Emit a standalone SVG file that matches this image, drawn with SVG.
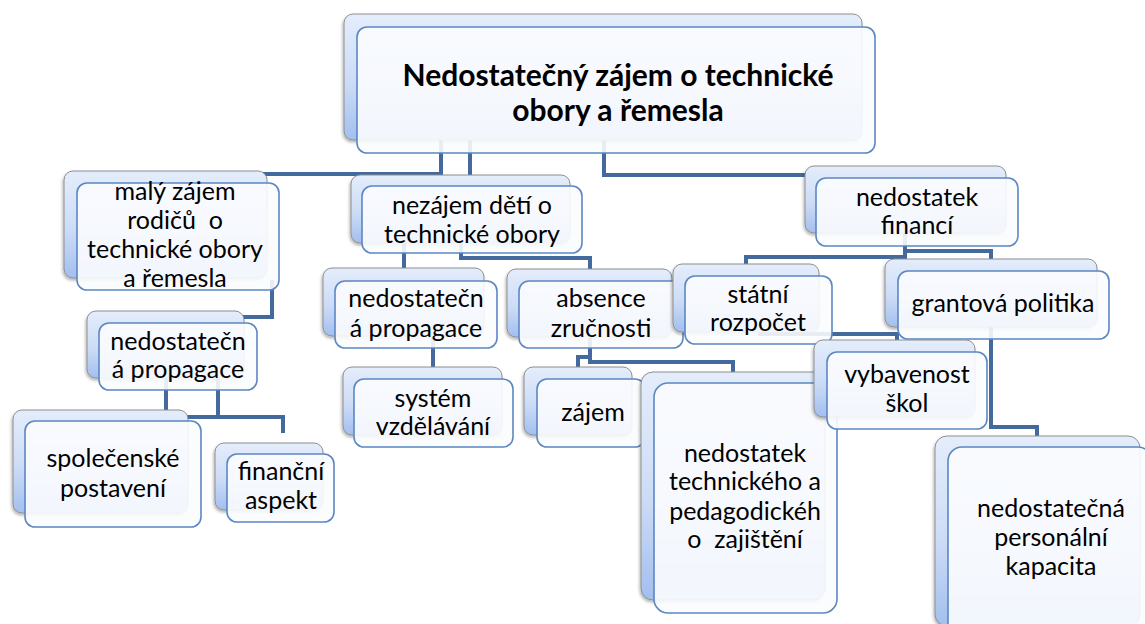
<svg xmlns="http://www.w3.org/2000/svg" width="1145" height="624" viewBox="0 0 1145 624">
<defs>
<linearGradient id="gb" x1="0" y1="0" x2="0" y2="1">
<stop offset="0" stop-color="#e4edfb"/>
<stop offset="0.55" stop-color="#cddcf6"/>
<stop offset="1" stop-color="#a2bfef"/>
</linearGradient>
<filter id="sh" x="-5%" y="-5%" width="112%" height="120%">
<feDropShadow dx="-1" dy="2" stdDeviation="1.5" flood-color="#000" flood-opacity="0.3"/>
</filter>
<style>
.conn{fill:none;stroke:#44699d;stroke-width:4;stroke-linejoin:miter}
.bk{fill:url(#gb);stroke:#8e8e8e;stroke-width:1;filter:url(#sh)}
.fr{fill:#fbfcfe;fill-opacity:0.9;stroke:#5b87c2;stroke-width:1.6}
.t{font-family:Lato,"Liberation Sans",sans-serif;font-size:25px;fill:#000;text-anchor:middle}
.tb{font-weight:bold;font-size:30px}
</style>
</defs>
<rect width="1145" height="624" fill="#ffffff"/>
<g id="connectors">
<path class="conn" d="M441 140 V174 H170"/>
<path class="conn" d="M470 140 V176"/>
<path class="conn" d="M604 140 V175 H905"/>
<path class="conn" d="M272 280 V317 H170"/>
<path class="conn" d="M404 243 V268"/>
<path class="conn" d="M461 243 V258 H590 V269"/>
<path class="conn" d="M166 378 V410"/>
<path class="conn" d="M218 378 V417"/>
<path class="conn" d="M120 417 H283 V433"/>
<path class="conn" d="M433 336 V367"/>
<path class="conn" d="M590 337 V357 H578 V367"/>
<path class="conn" d="M590 337 V362 H733 V372"/>
<path class="conn" d="M905 233 V257 H746 V264"/>
<path class="conn" d="M905 233 V251 H991 V259"/>
<path class="conn" d="M758 334 H897 V340"/>
<path class="conn" d="M991 327 V427 H1037 V436"/>
</g>
<g id="n-top">
<rect class="bk" x="344" y="14" width="518" height="126" rx="9"/>
<rect class="fr" x="357" y="27" width="518" height="126" rx="10"/>
<text class="t tb"><tspan x="618" y="86">Nedostatečný zájem o technické</tspan><tspan x="618" y="121">obory a řemesla</tspan></text>
</g>
<g id="n-maly">
<rect class="bk" x="64" y="171" width="203" height="107" rx="9"/>
<rect class="fr" x="77" y="183" width="202" height="107" rx="10"/>
<text class="t" xml:space="preserve"><tspan x="175" y="200">malý zájem</tspan><tspan x="175" y="229">rodičů  o</tspan><tspan x="175" y="258">technické obory</tspan><tspan x="175" y="287">a řemesla</tspan></text>
</g>
<g id="n-nezajem">
<rect class="bk" x="351" y="175" width="219" height="68" rx="9"/>
<rect class="fr" x="362" y="186" width="220" height="67" rx="10"/>
<text class="t"><tspan x="472" y="214">nezájem dětí o</tspan><tspan x="472" y="243">technické obory</tspan></text>
</g>
<g id="n-financi">
<rect class="bk" x="805" y="166" width="201" height="67" rx="9"/>
<rect class="fr" x="816" y="178" width="202" height="68" rx="10"/>
<text class="t"><tspan x="917" y="206">nedostatek</tspan><tspan x="917" y="234">financí</tspan></text>
</g>
<g id="n-propagace-l">
<rect class="bk" x="87" y="311" width="157" height="67" rx="9"/>
<rect class="fr" x="99" y="323" width="158" height="67" rx="10"/>
<text class="t"><tspan x="178" y="350">nedostatečn</tspan><tspan x="178" y="378">á propagace</tspan></text>
</g>
<g id="n-spolecenske">
<rect class="bk" x="13" y="410" width="175" height="103" rx="9"/>
<rect class="fr" x="25" y="421" width="176" height="106" rx="10"/>
<text class="t"><tspan x="113" y="467">společenské</tspan><tspan x="113" y="497">postavení</tspan></text>
</g>
<g id="n-financni">
<rect class="bk" x="215" y="443" width="108" height="67" rx="9"/>
<rect class="fr" x="227" y="454" width="107" height="68" rx="10"/>
<text class="t"><tspan x="281" y="480">finanční</tspan><tspan x="281" y="509">aspekt</tspan></text>
</g>
<g id="n-propagace-m">
<rect class="bk" x="323" y="268" width="161" height="68" rx="9"/>
<rect class="fr" x="335" y="281" width="162" height="67" rx="10"/>
<text class="t"><tspan x="416" y="307">nedostatečn</tspan><tspan x="416" y="337">á propagace</tspan></text>
</g>
<g id="n-system">
<rect class="bk" x="343" y="367" width="159" height="68" rx="9"/>
<rect class="fr" x="354" y="379" width="159" height="68" rx="10"/>
<text class="t"><tspan x="433" y="407">systém</tspan><tspan x="433" y="435">vzdělávání</tspan></text>
</g>
<g id="n-absence">
<rect class="bk" x="507" y="269" width="165" height="68" rx="9"/>
<rect class="fr" x="519" y="281" width="164" height="67" rx="10"/>
<text class="t"><tspan x="601" y="307">absence</tspan><tspan x="601" y="337">zručnosti</tspan></text>
</g>
<g id="n-zajem">
<rect class="bk" x="524" y="367" width="108" height="68" rx="9"/>
<rect class="fr" x="537" y="379" width="108" height="68" rx="10"/>
<text class="t" x="593" y="421">zájem</text>
</g>
<g id="n-technicke">
<rect class="bk" x="641" y="372" width="184" height="228" rx="12"/>
<rect class="fr" x="654" y="383" width="183" height="230" rx="14"/>
<text class="t" xml:space="preserve"><tspan x="745" y="462">nedostatek</tspan><tspan x="745" y="490">technického a</tspan><tspan x="745" y="520">pedagodickéh</tspan><tspan x="745" y="548">o  zajištění</tspan></text>
</g>
<g id="n-statni">
<rect class="bk" x="673" y="264" width="146" height="68" rx="9"/>
<rect class="fr" x="685" y="276" width="147" height="68" rx="10"/>
<text class="t"><tspan x="758" y="303">státní</tspan><tspan x="758" y="331">rozpočet</tspan></text>
</g>
<g id="n-grant">
<rect class="bk" x="885" y="259" width="212" height="68" rx="9"/>
<rect class="fr" x="898" y="271" width="211" height="68" rx="10"/>
<text class="t" x="1003" y="312">grantová politika</text>
</g>
<g id="n-vybavenost">
<rect class="bk" x="814" y="340" width="161" height="77" rx="9"/>
<rect class="fr" x="827" y="352" width="160" height="77" rx="10"/>
<text class="t"><tspan x="907" y="383">vybavenost</tspan><tspan x="907" y="412">škol</tspan></text>
</g>
<g id="n-personalni">
<rect class="bk" x="935" y="436" width="205" height="190" rx="12"/>
<rect class="fr" x="948" y="447" width="204" height="195" rx="14"/>
<text class="t"><tspan x="1051" y="517">nedostatečná</tspan><tspan x="1051" y="546">personální</tspan><tspan x="1051" y="575">kapacita</tspan></text>
</g>
</svg>
